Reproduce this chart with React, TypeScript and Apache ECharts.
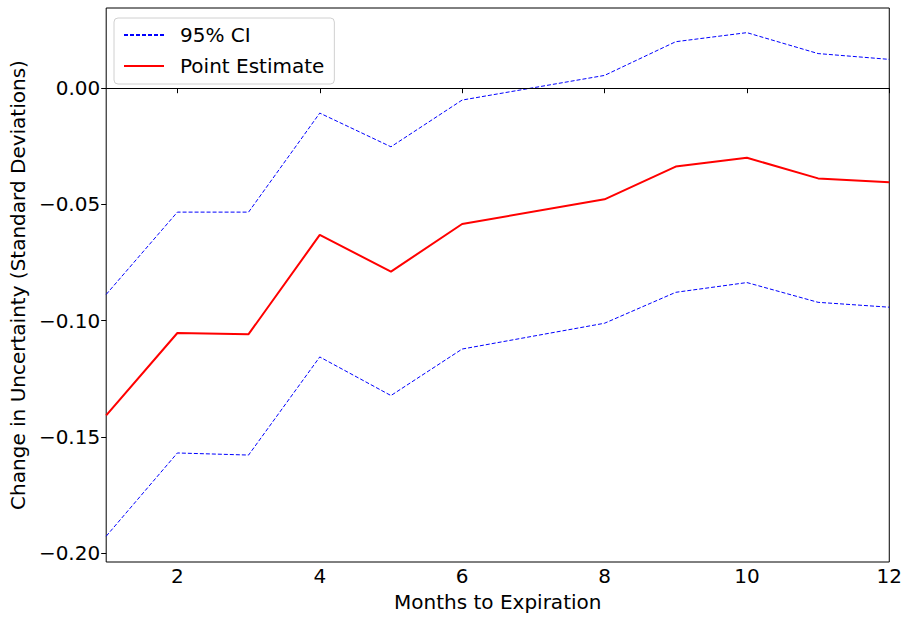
import React, { useEffect, useRef } from "react";
import * as echarts from "echarts";

const months = [1, 2, 3, 4, 5, 6, 8, 9, 10, 11, 12];
const pointEstimate = [-0.1407, -0.1053, -0.1058, -0.0631, -0.0789, -0.0584, -0.0478, -0.0337, -0.0299, -0.0388, -0.0405];
const upperCI = [-0.0887, -0.0533, -0.0533, -0.0107, -0.0252, -0.0051, 0.0055, 0.02, 0.0239, 0.0149, 0.0124];
const lowerCI = [-0.1927, -0.1569, -0.1578, -0.1156, -0.1322, -0.1122, -0.1011, -0.0878, -0.0836, -0.0921, -0.0942];
const xTicks = [2, 4, 6, 8, 10, 12];
const yTicks = [-0.2, -0.15, -0.1, -0.05, 0];

const FONT = "DejaVu Sans";
const FS = 20;

export default function App() {
  const ref = useRef<HTMLDivElement>(null);
  useEffect(() => {
    if (!ref.current) return;
    const chart = echarts.init(ref.current, null, { renderer: "svg" });
    const pairs = (ys: number[]) => months.map((m, i) => [m, ys[i]]);
    const blue = { color: "#0000ff", width: 1, type: [4, 2] as any };
    chart.setOption({
      animation: false,
      textStyle: { fontFamily: FONT },
      grid: {
        left: 105,
        right: 13,
        top: 8,
        bottom: 50,
        show: true,
        borderColor: "#000",
        borderWidth: 1,
        backgroundColor: "transparent",
      },
      legend: {
        orient: "vertical",
        left: 114,
        top: 18,
        data: ["95% CI", "Point Estimate"],
        itemWidth: 40,
        itemHeight: 14,
        itemGap: 9,
        padding: [6, 10, 7, 9],
        borderColor: "#d0d0d0",
        borderWidth: 1,
        borderRadius: 4,
        backgroundColor: "rgba(255,255,255,0.8)",
        itemStyle: { opacity: 0 },
        textStyle: { fontFamily: FONT, fontSize: FS, color: "#000", lineHeight: 22, padding: [0, 0, 0, 11] },
      },
      xAxis: {
        type: "value",
        min: 1,
        max: 12,
        name: "Months to Expiration",
        nameLocation: "middle",
        nameGap: 30,
        nameTextStyle: { fontFamily: FONT, fontSize: FS, color: "#000" },
        axisLine: { show: false },
        splitLine: { show: false },
        axisTick: { show: true, inside: false, length: 5, lineStyle: { color: "#000" }, customValues: xTicks },
        axisLabel: { fontFamily: FONT, fontSize: FS, color: "#000", margin: 4, customValues: xTicks },
      },
      yAxis: {
        type: "value",
        min: -0.2038,
        max: 0.0345,
        name: "Change in Uncertainty (Standard Deviations)",
        nameLocation: "middle",
        nameGap: 74,
        nameTextStyle: { fontFamily: FONT, fontSize: FS, color: "#000" },
        axisLine: { show: false },
        splitLine: { show: false },
        axisTick: { show: true, inside: false, length: 5, lineStyle: { color: "#000" }, customValues: yTicks },
        axisLabel: {
          fontFamily: FONT,
          fontSize: FS,
          color: "#000",
          margin: 6,
          customValues: yTicks,
          formatter: (v: number) => v.toFixed(2).replace("-", "\u2212"),
        },
      },
      series: [
        {
          name: "95% CI",
          type: "line",
          data: pairs(upperCI),
          symbol: "none",
          lineStyle: blue,
          itemStyle: { color: "#0000ff" },
          z: 2,
          markLine: {
            silent: true,
            symbol: "none",
            label: { show: false },
            lineStyle: { color: "#000", width: 1, type: "solid" },
            data: [{ yAxis: 0 }],
          },
        },
        {
          name: "Point Estimate",
          type: "line",
          data: pairs(pointEstimate),
          symbol: "none",
          lineStyle: { color: "#ff0000", width: 2 },
          itemStyle: { color: "#ff0000" },
          z: 3,
        },
        {
          name: "95% CI",
          type: "line",
          data: pairs(lowerCI),
          symbol: "none",
          lineStyle: blue,
          itemStyle: { color: "#0000ff" },
          z: 2,
        },
      ],
    });
    return () => chart.dispose();
  }, []);
  return <div ref={ref} style={{ width: 905, height: 617, position: "absolute", left: 0, top: 0 }} />;
}
